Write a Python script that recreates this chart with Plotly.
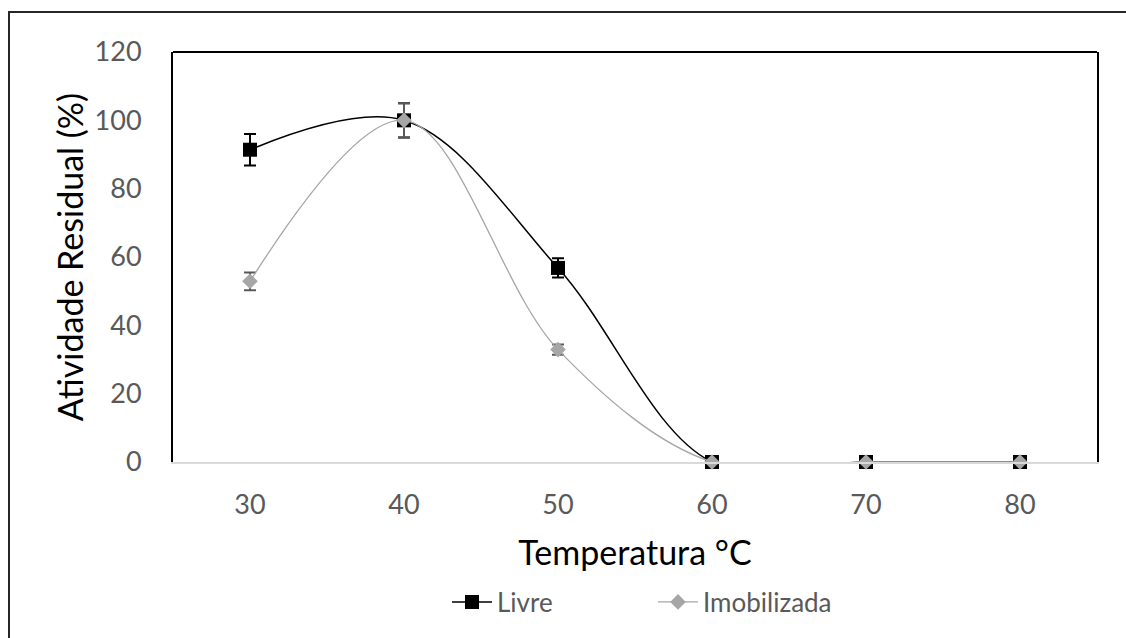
import plotly.graph_objects as go

# Temperature (°C) and residual activity (%) for the free and immobilised enzyme
temperatura = [30, 40, 50, 60, 70, 80]
livre = [91.4, 100.0, 56.8, 0.0, 0.0, 0.0]
livre_erro = [4.6, 5.0, 2.8, 0.0, 0.0, 0.0]
imobilizada = [52.9, 100.0, 32.9, 0.0, 0.0, 0.0]
imobilizada_erro = [2.6, 5.0, 1.5, 0.0, 0.0, 0.0]
y_ticks = [0, 20, 40, 60, 80, 100, 120]

FONT = "Lato"
GREY_TEXT = "#595959"

fig = go.Figure()

fig.add_trace(go.Scatter(
    x=temperatura, y=livre, name="Livre",
    mode="lines+markers",
    line=dict(color="black", width=1.5, shape="spline", smoothing=1.0),
    marker=dict(symbol="square", size=14, color="black"),
    error_y=dict(type="data", array=livre_erro, visible=True,
                 color="black", thickness=2, width=6),
    cliponaxis=False,
))

fig.add_trace(go.Scatter(
    x=temperatura, y=imobilizada, name="Imobilizada",
    mode="lines+markers",
    line=dict(color="#A6A6A6", width=1.3, shape="spline", smoothing=1.0),
    marker=dict(symbol="diamond", size=12, color="#A6A6A6"),
    error_y=dict(type="data", array=imobilizada_erro, visible=True,
                 color="#595959", thickness=2, width=6),
    cliponaxis=False,
))

# plot-area size in px
L, R, T, B = 173, 29, 52, 176
W = 1126 - L - R
H = 638 - T - B

fig.update_layout(
    width=1126, height=638,
    margin=dict(l=L, r=R, t=T, b=B, pad=0),
    paper_bgcolor="white", plot_bgcolor="white",
    font=dict(family=FONT, color=GREY_TEXT),
    showlegend=True,
    legend=dict(
        orientation="h", x=(447 - L) / W, xanchor="left",
        y=-(602 - (T + H)) / H, yanchor="middle",
        font=dict(size=26, color=GREY_TEXT),
        entrywidth=151, itemwidth=40,
        bgcolor="rgba(0,0,0,0)",
    ),
    xaxis=dict(
        range=[25, 85],
        tickmode="array", tickvals=temperatura,
        ticktext=[str(t) for t in temperatura],
        tickfont=dict(size=27, color=GREY_TEXT),
        ticks="outside", ticklen=18, tickcolor="rgba(0,0,0,0)",
        showgrid=False, zeroline=False,
        showline=True, linecolor="#D9D9D9", linewidth=2,
        title=dict(text="Temperatura °C", font=dict(size=34, color="black"),
                   standoff=22),
    ),
    yaxis=dict(
        range=[0, 120],
        tickmode="array", tickvals=y_ticks,
        tickfont=dict(size=27, color=GREY_TEXT),
        ticks="outside", ticklen=24, tickcolor="rgba(0,0,0,0)",
        showgrid=False, zeroline=False,
        showline=True, linecolor="black", linewidth=2, mirror=True,
        title=dict(text="Atividade Residual (%)", font=dict(size=34, color="black"),
                   standoff=1),
    ),
    shapes=[
        # top edge of the plot area
        dict(type="line", xref="paper", yref="paper", x0=0, x1=1, y0=1, y1=1,
             line=dict(color="black", width=2)),
        # outer chart border
        dict(type="rect", xref="paper", yref="paper",
             x0=(9 - L) / W, x1=(1140 - L) / W,
             y0=-(660 - (T + H)) / H, y1=1 + (T - 12) / H,
             line=dict(color="#262626", width=2), fillcolor="rgba(0,0,0,0)",
             layer="below"),
    ],
)

fig.write_html("out.html")
